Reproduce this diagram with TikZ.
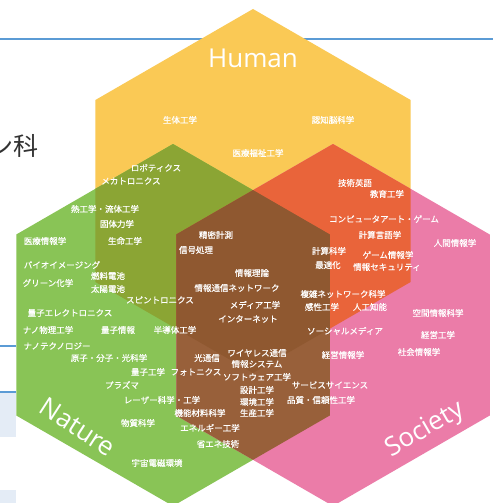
\documentclass[tikz,border=0pt]{standalone}
\usepackage{fontspec}
\newfontfamily\jp{Noto Sans CJK JP}[FakeBold=0.5]
\newfontfamily\jpthin{Noto Sans CJK JP}
\newfontfamily\lat{Open Sans}
\definecolor{humanc}{RGB}{250,201,85}
\definecolor{naturec}{RGB}{137,196,86}
\definecolor{societyc}{RGB}{235,124,168}
\definecolor{olivec}{RGB}{139,165,52}
\definecolor{orangec}{RGB}{233,100,58}
\definecolor{brownb}{RGB}{152,96,58}
\definecolor{browna}{RGB}{143,88,48}
\definecolor{slideblue}{RGB}{91,155,213}
\definecolor{paleblue}{RGB}{228,236,246}
\newcommand{\hexpath}[3]{(#1,#2-#3) -- (#1+0.866*#3,#2-0.5*#3) -- (#1+0.866*#3,#2+0.5*#3) -- (#1,#2+#3) -- (#1-0.866*#3,#2+0.5*#3) -- (#1-0.866*#3,#2-0.5*#3) -- cycle}
\begin{document}
\begin{tikzpicture}[x=1pt,y=-1pt,
  lbl/.style={text=white,font=\jp\fontsize{8.5}{9}\selectfont,inner sep=0pt},
  big/.style={text=white,font=\lat\fontsize{26}{28}\selectfont,inner sep=0pt}]
\useasboundingbox (0,0) rectangle (493,503);
\clip (0,0) rectangle (493,503);
\fill[white] (0,0) rectangle (493,503);
% background slide remnants
\draw[slideblue, line width=1.8pt] (0,39) -- (493,39);
\node[text={rgb,255:red,50;green,50;blue,50},font=\jpthin\fontsize{25}{27}\selectfont,inner sep=0pt] (bgtxt) at (13,146) {ン科};
\draw[slideblue, line width=1.5pt] (0,346) -- (16,346);
\fill[paleblue] (0,392) rectangle (16,437);
\draw[slideblue, line width=1.5pt] (0,392) -- (16,392);
\fill[paleblue] (0,490) rectangle (16,503);
% hexagons
\fill[humanc] \hexpath{253}{191}{182};
\fill[naturec] \hexpath{173}{325}{181};
\fill[societyc] \hexpath{333}{325}{181};
\begin{scope}
  \clip \hexpath{253}{191}{182};
  \fill[olivec] \hexpath{173}{325}{181};
  \fill[orangec] \hexpath{333}{325}{181};
\end{scope}
\begin{scope}
  \clip \hexpath{173}{325}{181};
  \fill[brownb] \hexpath{333}{325}{181};
\end{scope}
\begin{scope}
  \clip \hexpath{253}{191}{182};
  \clip \hexpath{173}{325}{181};
  \fill[browna] \hexpath{333}{325}{181};
\end{scope}
% titles
\node[big] (human) at (253,58) {Human};
\node[big, rotate=-33] (nature) at (78,427) {Nature};
\node[big, rotate=30] (society) at (425,430) {Society};
% labels
\node[lbl] (t1) at (180,120) {生体工学};
\node[lbl] (t2) at (333,120) {認知脳科学};
\node[lbl] (t3) at (258,153) {医療福祉工学};
\node[lbl] (t4) at (156,168) {ロボティクス};
\node[lbl] (t5) at (131,181) {メカトロニクス};
\node[lbl] (t6) at (355,183) {技術英語};
\node[lbl] (t7) at (387,194) {教育工学};
\node[lbl] (t8) at (105,209) {熱工学・流体工学};
\node[lbl] (t9) at (384,219) {コンピュータアート・ゲーム};
\node[lbl] (t10) at (117,224) {固体力学};
\node[lbl] (t11) at (216,235) {精密計測};
\node[lbl] (t12) at (380,235) {計算言語学};
\node[lbl] (t13) at (45,241) {医療情報学};
\node[lbl] (t14) at (125,241) {生命工学};
\node[lbl] (t15) at (455,243) {人間情報学};
\node[lbl] (t16) at (196,250) {信号処理};
\node[lbl] (t17) at (329,251) {計算科学};
\node[lbl] (t18) at (388,255) {ゲーム情報学};
\node[lbl] (t19) at (62,265) {バイオイメージング};
\node[lbl] (t20) at (328,265) {最適化};
\node[lbl] (t21) at (387,267) {情報セキュリティ};
\node[lbl] (t22) at (252,273) {情報理論};
\node[lbl] (t23) at (108,276) {燃料電池};
\node[lbl] (t24) at (48,283) {グリーン化学};
\node[lbl] (t25) at (237,288) {情報通信ネットワーク};
\node[lbl] (t26) at (108,289) {太陽電池};
\node[lbl] (t27) at (343,294) {複雑ネットワーク科学};
\node[lbl] (t28) at (160,300) {スピントロニクス};
\node[lbl] (t29) at (255,305) {メディア工学};
\node[lbl] (t30) at (322,307) {感性工学};
\node[lbl] (t31) at (370,307) {人工知能};
\node[lbl] (t32) at (70,313) {量子エレクトロニクス};
\node[lbl] (t33) at (438,313) {空間情報科学};
\node[lbl] (t34) at (248,319) {インターネット};
\node[lbl] (t35) at (48,330) {ナノ物理工学};
\node[lbl] (t36) at (118,330) {量子情報};
\node[lbl] (t37) at (175,330) {半導体工学};
\node[lbl] (t38) at (345,331) {ソーシャルメディア};
\node[lbl] (t39) at (438,335) {経営工学};
\node[lbl] (t40) at (57,346) {ナノテクノロジー};
\node[lbl] (t41) at (257,353) {ワイヤレス通信};
\node[lbl] (t42) at (419,352) {社会情報学};
\node[lbl] (t43) at (343,355) {経営情報学};
\node[lbl] (t44) at (109,358) {原子・分子・光科学};
\node[lbl] (t45) at (207,358) {光通信};
\node[lbl] (t46) at (257,364) {情報システム};
\node[lbl] (t47) at (148,372) {量子工学};
\node[lbl] (t48) at (196,372) {フォトニクス};
\node[lbl] (t49) at (257,377) {ソフトウェア工学};
\node[lbl] (t50) at (122,385) {プラズマ};
\node[lbl] (t51) at (330,385) {サービスサイエンス};
\node[lbl] (t52) at (257,390) {設計工学};
\node[lbl] (t53) at (162,400) {レーザー科学・工学};
\node[lbl] (t54) at (321,400) {品質・信頼性工学};
\node[lbl] (t55) at (257,402) {環境工学};
\node[lbl] (t56) at (200,413) {機能材料科学};
\node[lbl] (t57) at (257,413) {生産工学};
\node[lbl] (t58) at (138,423) {物質科学};
\node[lbl] (t59) at (210,428) {エネルギー工学};
\node[lbl] (t60) at (218,444) {省エネ技術};
\node[lbl] (t61) at (157,463) {宇宙電磁環境};
\end{tikzpicture}
\end{document}
